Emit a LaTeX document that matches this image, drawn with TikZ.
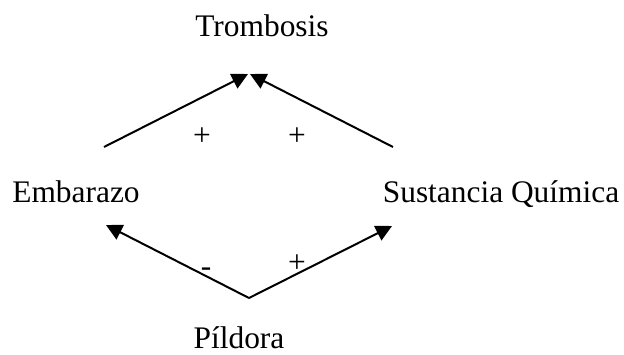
\documentclass[tikz,border=0pt]{standalone}
\usepackage{fontspec}
\setmainfont{Liberation Serif}
\usetikzlibrary{arrows.meta}

\begin{document}
\begin{tikzpicture}[x=0.5pt, y=-0.5pt, font=\fontsize{15.7}{18}\selectfont]
        \useasboundingbox (0,0) rectangle (624,354);

        \node[anchor=base] (trombosis) at (262,36) {Trombosis};
        \node[anchor=base] (embarazo) at (76,202) {Embarazo};
        \node[anchor=base] (sustancia) at (501,202) {Sustancia Química};
        \node[anchor=base] (pildora) at (239,348) {Píldora};

        \coordinate (emb-top) at (104,147);
        \coordinate (sus-top) at (393,147);
        \coordinate (tro-left) at (248,74);
        \coordinate (tro-right) at (250,74);
        \coordinate (emb-bot) at (106,225);
        \coordinate (sus-bot) at (392,226);
        \coordinate (pil-tip) at (249,298);

        \draw[line width=1pt, -{Triangle[length=8pt, width=8pt]}] (emb-top) -- (tro-left);
        \draw[line width=1pt, -{Triangle[length=8pt, width=8pt]}] (sus-top) -- (tro-right);
        \draw[line width=1pt, -{Triangle[length=8pt, width=8pt]}] (pil-tip) -- (emb-bot);
        \draw[line width=1pt, -{Triangle[length=8pt, width=8pt]}] (pil-tip) -- (sus-bot);

        \node (plus-emb) at (202,137) {+};
        \node (plus-sus) at (297,137) {+};
        \node (minus-pil) at (206,272) {-};
        \node (plus-pil) at (297,264) {+};

    \end{tikzpicture}
\end{document}
